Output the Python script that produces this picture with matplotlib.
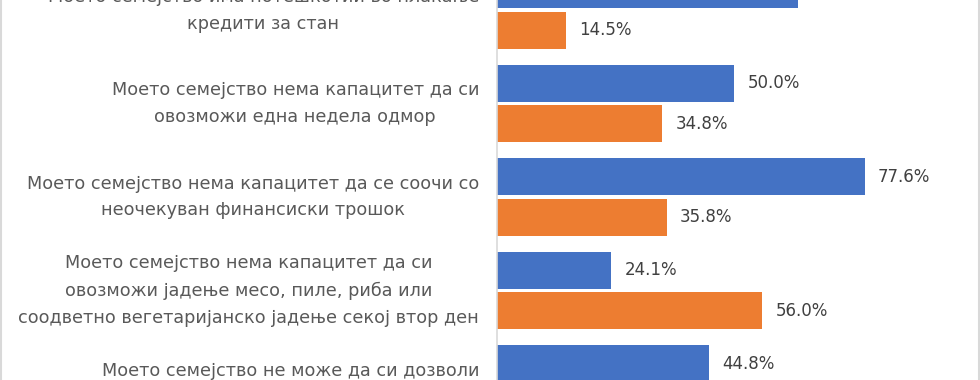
import numpy as np
import matplotlib.pyplot as plt
import matplotlib.transforms as mtransforms
from matplotlib.lines import Line2D

plt.rcParams['font.family'] = ['DejaVu Sans']

categories = [
    "Моето семејство има потешкотии во плаќање\nкредити за стан",
    "Моето семејство нема капацитет да си\nовозможи една недела одмор",
    "Моето семејство нема капацитет да се соочи со\nнеочекуван финансиски трошок",
    "Моето семејство нема капацитет да си\nовозможи јадење месо, пиле, риба или\nсоодветно вегетаријанско јадење секој втор ден",
    "Моето семејство не може да си дозволи\nсоодветно затоплување на домот",
]
blue_vals = [63.5, 50.0, 77.6, 24.1, 44.8]
orange_vals = [14.5, 34.8, 35.8, 56.0, 30.0]

blue = '#4472C4'
orange = '#ED7D31'

fig = plt.figure(figsize=(9.8, 3.8), dpi=100)
ax = fig.add_axes([497 / 980, 0, 1 - 497 / 980, 1])

y = np.arange(len(categories))
h = 0.395
off = 0.215
ax.barh(y - off, blue_vals, height=h, color=blue)
ax.barh(y + off, orange_vals, height=h, color=orange)

for i in range(len(categories)):
    ax.text(blue_vals[i] + 2.8, y[i] - off, f"{blue_vals[i]:.1f}%", ha='left', va='center',
            fontsize=12, color='#404040')
    ax.text(orange_vals[i] + 2.8, y[i] + off, f"{orange_vals[i]:.1f}%", ha='left', va='center',
            fontsize=12, color='#404040')

trans = mtransforms.blended_transform_factory(fig.transFigure, ax.transData)
for i, lab in enumerate(categories):
    ax.text(479 / 980, y[i], lab, transform=trans, ha='right', va='center',
            multialignment='center', fontsize=12.7, color='#595959',
            linespacing=1.63, clip_on=False)

ax.set_xlim(0, 101.9)
ax.set_ylim(3.957, -0.107)
ax.set_xticks([])
ax.set_yticks([])
for s in ['top', 'right', 'bottom']:
    ax.spines[s].set_visible(False)
ax.spines['left'].set_color('#d9d9d9')
ax.spines['left'].set_linewidth(1.2)

# chart border at the sides
fig.lines.append(Line2D([0.001, 0.001], [0, 1], transform=fig.transFigure, color='#d9d9d9', lw=1.5))
fig.lines.append(Line2D([0.999, 0.999], [0, 1], transform=fig.transFigure, color='#d9d9d9', lw=1.5))

fig.savefig('out.png', dpi=100)
